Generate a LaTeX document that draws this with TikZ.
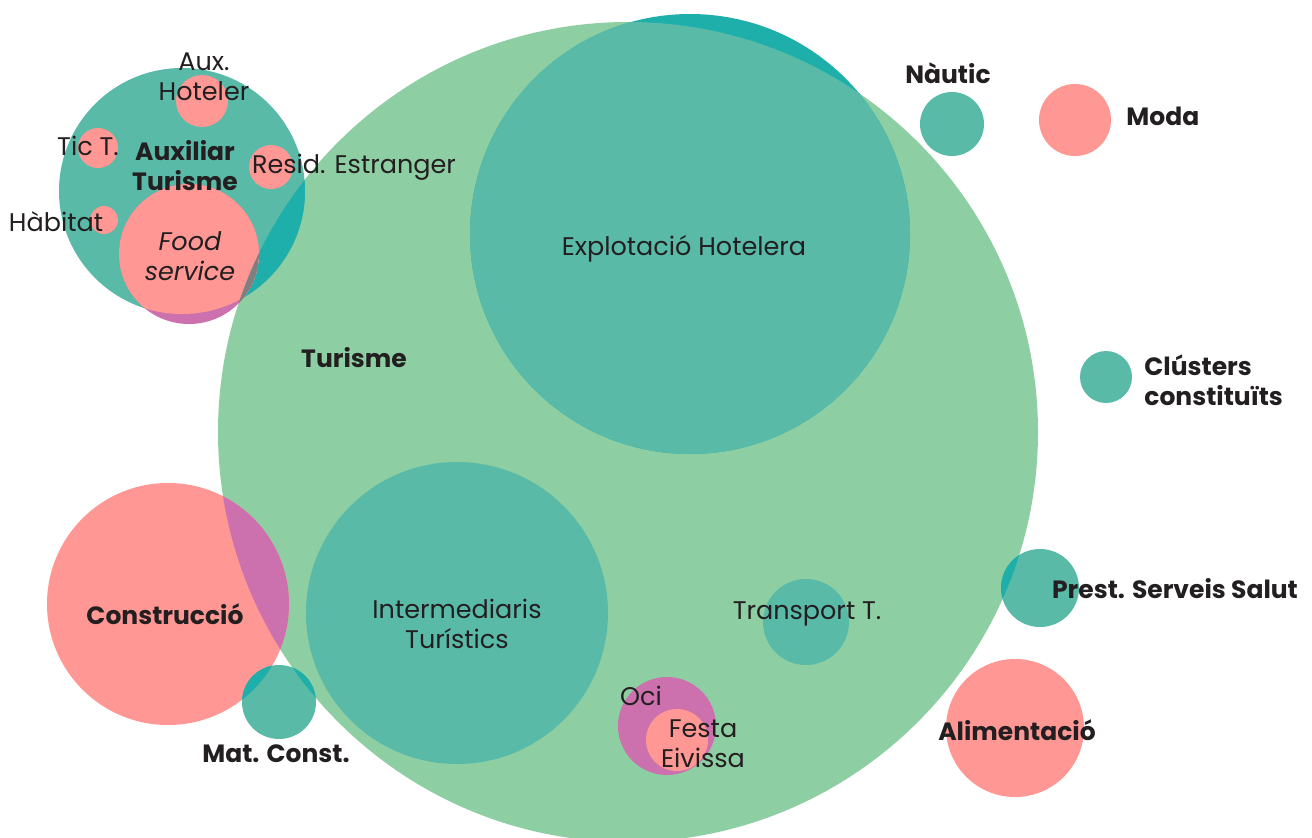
\documentclass[tikz,border=0pt]{standalone}
\usepackage{fontspec}
\setmainfont{Poppins}
\usetikzlibrary{positioning}
\definecolor{verd}{HTML}{8ECEA3}
\definecolor{teal1}{HTML}{5ABAA8}
\definecolor{teal2}{HTML}{1FAFAA}
\definecolor{rosa}{HTML}{FF9794}
\definecolor{lila}{HTML}{CD71AE}
\definecolor{gris}{HTML}{7F7F7F}
\definecolor{tinta}{HTML}{231F20}

\begin{document}
\begin{tikzpicture}[x=1pt, y=-1pt]
    \tikzset{Bubble/.style={circle, inner sep=0pt, minimum size=#1},
      LabelStyle/.style={text=tinta, inner sep=0pt, align=center,
        font=\fontsize{25.5}{30}\selectfont},
      BoldStyle/.style={LabelStyle, font=\fontsize{25}{30}\selectfont\bfseries}}
    \fill[white] (0,0) rectangle (1312,838);
    \useasboundingbox (0,0) rectangle (1312,838);
    % big clusters
    \node[Bubble=820pt, fill=verd] (tur) at (628,432) {};
    \node[Bubble=440pt, fill=teal2] (hot) at (690,234) {};
    \begin{scope}
      \clip (tur.center) circle (410pt);
      \fill[teal1] (hot.center) circle (220pt);
    \end{scope}
    \node[Bubble=302pt, fill=teal1] (int) at (457,613) {};
    \node[Bubble=86pt, fill=teal1] (tra) at (806,622) {};
    \node[Bubble=98pt, fill=lila] (oci) at (667,726) {};
    \node[Bubble=62pt, fill=rosa] (fes) at (677,740) {};
    % auxiliar turisme
    \node[Bubble=246pt, fill=teal1] (aux) at (182,191) {};
    \begin{scope}
      \clip (aux.center) circle (123pt);
      \fill[teal2] (tur.center) circle (410pt);
    \end{scope}
    \node[Bubble=52pt, fill=rosa] (hote) at (202,101) {};
    \node[Bubble=40pt, fill=rosa] (tic) at (98,148) {};
    \node[Bubble=44pt, fill=rosa] (res) at (271,167) {};
    \node[Bubble=28pt, fill=rosa] (hab) at (104,220) {};
    \node[Bubble=140pt, fill=lila] (food) at (189,254) {};
    \begin{scope}
      \clip (food.center) circle (70pt);
      \fill[rosa] (aux.center) circle (123pt);
      \clip (tur.center) circle (410pt);
      \fill[gris] (food.center) circle (70pt);
    \end{scope}
    % construccio
    \node[Bubble=242pt, fill=rosa] (con) at (168,604) {};
    \begin{scope}
      \clip (con.center) circle (121pt);
      \fill[lila] (tur.center) circle (410pt);
    \end{scope}
    \node[Bubble=74pt, fill=teal1] (mat) at (279,702) {};
    \begin{scope}
      \clip (mat.center) circle (37pt);
      \fill[teal2] (con.center) circle (121pt);
      \fill[teal2] (tur.center) circle (410pt);
    \end{scope}
    % right side
    \node[Bubble=78pt, fill=teal1] (sal) at (1040,588) {};
    \begin{scope}
      \clip (sal.center) circle (39pt);
      \fill[teal2] (tur.center) circle (410pt);
    \end{scope}
    \node[Bubble=64pt, fill=teal1] (nau) at (952,124) {};
    \node[Bubble=72pt, fill=rosa] (mod) at (1075,120) {};
    \node[Bubble=52pt, fill=teal1] (clu) at (1106,377) {};
    \node[Bubble=138pt, fill=rosa] (ali) at (1015,728) {};
    % labels
    \node[BoldStyle] (lTur) at (354,358) {Turisme};
    \node[LabelStyle] (lHot) at (684,249) {Explotació Hotelera};
    \node[LabelStyle] (lInt) at (457,624) {Intermediaris\\Turístics};
    \node[LabelStyle] (lTra) at (807,614) {Transport T.};
    \node[LabelStyle] (lOci) at (641,696) {Oci};
    \node[LabelStyle] (lFes) at (703,744) {Festa\\Eivissa};
    \node[BoldStyle] (lAux) at (185,166) {Auxiliar\\Turisme};
    \node[LabelStyle] (lHote) at (204,77) {Aux.\\Hoteler};
    \node[LabelStyle] (lTic) at (88,146) {Tic T.};
    \node[LabelStyle] (lRes) at (354,167) {Resid. Estranger};
    \node[LabelStyle] (lHab) at (56,222) {Hàbitat};
    \node[LabelStyle, font=\fontsize{25.5}{30}\selectfont\itshape] (lFood) at (190,256) {Food\\service};
    \node[BoldStyle] (lCon) at (165,614) {Construcció};
    \node[BoldStyle] (lMat) at (276,754) {Mat. Const.};
    \node[BoldStyle] (lNau) at (948,73) {Nàutic};
    \node[BoldStyle, right=15pt of mod, yshift=4pt] (lMod) {Moda};
    \node[BoldStyle, align=left, right=12pt of clu, yshift=-3pt] (lClu) {Clústers\\constituïts};
    \node[BoldStyle] (lSal) at (1175,589) {Prest. Serveis Salut};
    \node[BoldStyle] (lAli) at (1017,730) {Alimentació};
\end{tikzpicture}
\end{document}
